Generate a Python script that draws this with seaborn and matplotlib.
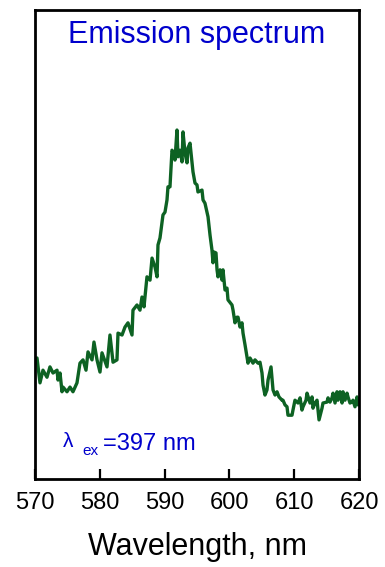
import matplotlib
matplotlib.use("Agg")
import matplotlib.pyplot as plt
import seaborn as sns
import pandas as pd

# Emission spectrum (arbitrary intensity units, normalised to the plot height)
wavelength = [
    570.31, 570.77, 571.23, 571.85, 572.31, 572.78, 573.40, 573.55, 573.86, 574.17,
    574.32, 574.94, 575.40, 575.86, 576.48, 576.94, 577.41, 577.87, 578.18, 578.80,
    579.10, 579.57, 580.03, 580.34, 581.11, 581.57, 582.04, 582.65, 582.81, 583.43,
    583.89, 584.35, 584.97, 585.12, 585.74, 586.20, 586.51, 586.82, 587.28, 587.75,
    588.06, 588.52, 588.83, 588.98, 589.29, 589.60, 589.75, 590.06, 590.37, 590.52,
    590.83, 591.14, 591.45, 591.60, 591.91, 592.07, 592.38, 592.69, 592.84, 593.15,
    593.46, 593.61, 593.92, 594.23, 594.38, 594.69, 595.00, 595.15, 595.77, 595.93,
    596.23, 596.70, 597.01, 597.31, 597.47, 597.62, 597.93, 598.09, 598.24, 598.55,
    598.86, 599.01, 599.32, 599.63, 599.78, 600.40, 600.56, 600.86, 601.17, 601.33,
    601.64, 601.94, 602.10, 602.41, 602.87, 603.18, 603.64, 603.95, 604.41, 604.72,
    605.03, 605.19, 605.49, 605.80, 605.96, 606.42, 606.57, 606.73, 607.04, 607.35,
    607.65, 608.12, 608.27, 608.58, 608.89, 609.04, 609.66, 609.81, 610.12, 610.59,
    610.90, 611.20, 611.36, 611.82, 611.98, 612.44, 612.75, 612.90, 613.21, 613.52,
    613.83, 614.29, 614.44, 615.06, 615.22, 615.52, 615.83, 615.99, 616.30, 616.60,
    616.76, 617.07, 617.38, 617.53, 617.84, 618.15, 618.30, 618.61, 618.92, 619.07,
    619.38, 619.69, 619.85,
]
intensity = [
    0.258, 0.205, 0.232, 0.217, 0.239, 0.226, 0.232, 0.211, 0.226, 0.186,
    0.196, 0.186, 0.196, 0.186, 0.205, 0.247, 0.254, 0.232, 0.271, 0.254,
    0.292, 0.254, 0.228, 0.269, 0.239, 0.307, 0.249, 0.254, 0.311, 0.307,
    0.324, 0.333, 0.307, 0.360, 0.371, 0.360, 0.388, 0.367, 0.431, 0.424,
    0.471, 0.452, 0.431, 0.499, 0.514, 0.548, 0.563, 0.569, 0.595, 0.623,
    0.623, 0.701, 0.695, 0.680, 0.744, 0.687, 0.701, 0.676, 0.740, 0.695,
    0.674, 0.706, 0.716, 0.674, 0.655, 0.631, 0.627, 0.612, 0.616, 0.595,
    0.588, 0.559, 0.520, 0.488, 0.461, 0.484, 0.482, 0.446, 0.431, 0.446,
    0.424, 0.446, 0.403, 0.407, 0.382, 0.371, 0.360, 0.333, 0.345, 0.345,
    0.324, 0.333, 0.311, 0.286, 0.247, 0.258, 0.247, 0.254, 0.247, 0.249,
    0.226, 0.200, 0.179, 0.190, 0.211, 0.239, 0.215, 0.190, 0.179, 0.186,
    0.175, 0.168, 0.168, 0.158, 0.154, 0.136, 0.136, 0.147, 0.168, 0.162,
    0.173, 0.147, 0.154, 0.168, 0.183, 0.162, 0.175, 0.151, 0.162, 0.168,
    0.126, 0.151, 0.162, 0.164, 0.173, 0.164, 0.173, 0.183, 0.162, 0.186,
    0.168, 0.186, 0.162, 0.186, 0.168, 0.183, 0.175, 0.162, 0.164, 0.168,
    0.154, 0.175, 0.158,
]
x_ticks = [570, 580, 590, 600, 610, 620]

title_text = "Emission spectrum"
x_label = "Wavelength, nm"
excitation = "=397 nm"

sns.set_style("white")
plt.rcParams["font.family"] = ["Liberation Sans", "DejaVu Sans"]
plt.rcParams["text.color"] = "black"
plt.rcParams["axes.labelcolor"] = "black"
plt.rcParams["xtick.color"] = "black"

df = pd.DataFrame({"wavelength": wavelength, "intensity": intensity})

fig = plt.figure(figsize=(3.85, 5.67), dpi=100)
ax = fig.add_axes([0.0909, 0.1552, 0.8416, 0.8272])

sns.lineplot(data=df, x="wavelength", y="intensity", ax=ax, color="#0d6223",
             linewidth=2.4, estimator=None, sort=False)

ax.set_xlim(570, 620)
ax.set_ylim(0, 1)
ax.set_xticks(x_ticks)
ax.set_xticklabels([str(t) for t in x_ticks], fontsize=17, color="black")
ax.set_yticks([])
ax.set_ylabel("")
ax.tick_params(axis="x", direction="in", length=7, width=1.6, pad=9.5,
               colors="black", bottom=True, top=False)

for side in ["left", "right", "top", "bottom"]:
    ax.spines[side].set_visible(True)
    ax.spines[side].set_color("black")
    ax.spines[side].set_linewidth(2.0)

ax.set_xlabel(x_label, fontsize=22, color="black")
ax.xaxis.set_label_coords(0.5, -0.113)

blue = "#0000cc"
ax.text(0.5, 0.930, title_text, transform=ax.transAxes, ha="center",
        va="baseline", fontsize=22, color=blue)
ax.text(0.086, 0.068, "λ", transform=ax.transAxes, ha="left",
        va="baseline", fontsize=15, color=blue)
ax.text(0.145, 0.051, "ex", transform=ax.transAxes, ha="left",
        va="baseline", fontsize=11, color=blue)
ax.text(0.210, 0.062, excitation, transform=ax.transAxes, ha="left",
        va="baseline", fontsize=17, color=blue)

fig.savefig("out.png", dpi=100)
